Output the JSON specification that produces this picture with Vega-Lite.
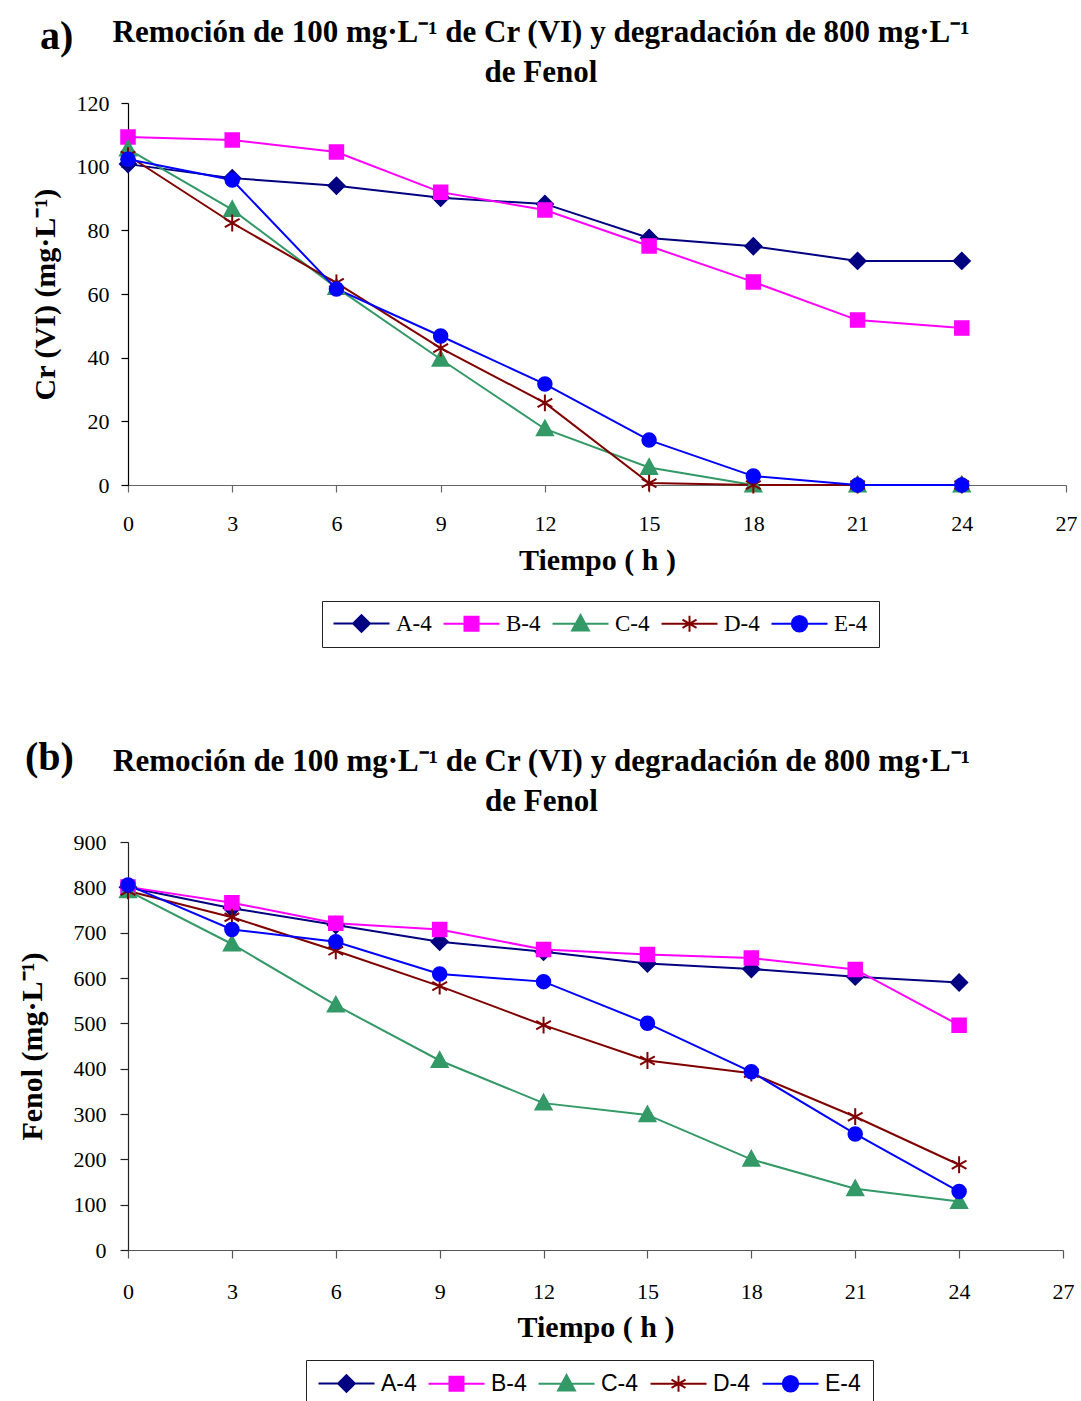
{
  "$schema": "https://vega.github.io/schema/vega-lite/v6.json",
  "background": "white",
  "padding": {"left": 17, "top": 16, "right": 0, "bottom": 0},
  "columns": 1,
  "spacing": 89,
  "resolve": {
    "scale": {"x": "independent", "y": "independent", "color": "independent"}
  },
  "datasets": {
    "cr": [
      {"t": 0, "serie": "A-4", "v": 100.8}, {"t": 3, "serie": "A-4", "v": 96.4}, {"t": 6, "serie": "A-4", "v": 94.0},
      {"t": 9, "serie": "A-4", "v": 90.2}, {"t": 12, "serie": "A-4", "v": 88.3}, {"t": 15, "serie": "A-4", "v": 77.6},
      {"t": 18, "serie": "A-4", "v": 75.0}, {"t": 21, "serie": "A-4", "v": 70.4}, {"t": 24, "serie": "A-4", "v": 70.4},
      {"t": 0, "serie": "B-4", "v": 109.3}, {"t": 3, "serie": "B-4", "v": 108.4}, {"t": 6, "serie": "B-4", "v": 104.6},
      {"t": 9, "serie": "B-4", "v": 92.0}, {"t": 12, "serie": "B-4", "v": 86.4}, {"t": 15, "serie": "B-4", "v": 75.1},
      {"t": 18, "serie": "B-4", "v": 63.8}, {"t": 21, "serie": "B-4", "v": 51.8}, {"t": 24, "serie": "B-4", "v": 49.3},
      {"t": 0, "serie": "C-4", "v": 105.5}, {"t": 3, "serie": "C-4", "v": 86.5}, {"t": 6, "serie": "C-4", "v": 62.0},
      {"t": 9, "serie": "C-4", "v": 39.5}, {"t": 12, "serie": "C-4", "v": 17.6}, {"t": 15, "serie": "C-4", "v": 5.5},
      {"t": 18, "serie": "C-4", "v": 0}, {"t": 21, "serie": "C-4", "v": 0}, {"t": 24, "serie": "C-4", "v": 0},
      {"t": 0, "serie": "D-4", "v": 103.5}, {"t": 3, "serie": "D-4", "v": 82.3}, {"t": 6, "serie": "D-4", "v": 63.5},
      {"t": 9, "serie": "D-4", "v": 43.0}, {"t": 12, "serie": "D-4", "v": 25.8}, {"t": 15, "serie": "D-4", "v": 0.6},
      {"t": 18, "serie": "D-4", "v": 0}, {"t": 21, "serie": "D-4", "v": 0}, {"t": 24, "serie": "D-4", "v": 0},
      {"t": 0, "serie": "E-4", "v": 102.3}, {"t": 3, "serie": "E-4", "v": 95.8}, {"t": 6, "serie": "E-4", "v": 61.6},
      {"t": 9, "serie": "E-4", "v": 46.8}, {"t": 12, "serie": "E-4", "v": 31.7}, {"t": 15, "serie": "E-4", "v": 14.1},
      {"t": 18, "serie": "E-4", "v": 2.8}, {"t": 21, "serie": "E-4", "v": 0}, {"t": 24, "serie": "E-4", "v": 0}
    ],
    "fenol": [
      {"t": 0, "serie": "A-4", "v": 800}, {"t": 3, "serie": "A-4", "v": 754}, {"t": 6, "serie": "A-4", "v": 717},
      {"t": 9, "serie": "A-4", "v": 680}, {"t": 12, "serie": "A-4", "v": 658}, {"t": 15, "serie": "A-4", "v": 632},
      {"t": 18, "serie": "A-4", "v": 620}, {"t": 21, "serie": "A-4", "v": 603}, {"t": 24, "serie": "A-4", "v": 590},
      {"t": 0, "serie": "B-4", "v": 801}, {"t": 3, "serie": "B-4", "v": 766}, {"t": 6, "serie": "B-4", "v": 721},
      {"t": 9, "serie": "B-4", "v": 707}, {"t": 12, "serie": "B-4", "v": 663}, {"t": 15, "serie": "B-4", "v": 652},
      {"t": 18, "serie": "B-4", "v": 644}, {"t": 21, "serie": "B-4", "v": 619}, {"t": 24, "serie": "B-4", "v": 496},
      {"t": 0, "serie": "C-4", "v": 792}, {"t": 3, "serie": "C-4", "v": 675}, {"t": 6, "serie": "C-4", "v": 540},
      {"t": 9, "serie": "C-4", "v": 418}, {"t": 12, "serie": "C-4", "v": 324}, {"t": 15, "serie": "C-4", "v": 298},
      {"t": 18, "serie": "C-4", "v": 200}, {"t": 21, "serie": "C-4", "v": 135}, {"t": 24, "serie": "C-4", "v": 107},
      {"t": 0, "serie": "D-4", "v": 792}, {"t": 3, "serie": "D-4", "v": 734}, {"t": 6, "serie": "D-4", "v": 660},
      {"t": 9, "serie": "D-4", "v": 582}, {"t": 12, "serie": "D-4", "v": 496}, {"t": 15, "serie": "D-4", "v": 418},
      {"t": 18, "serie": "D-4", "v": 390}, {"t": 21, "serie": "D-4", "v": 294}, {"t": 24, "serie": "D-4", "v": 188},
      {"t": 0, "serie": "E-4", "v": 805}, {"t": 3, "serie": "E-4", "v": 707}, {"t": 6, "serie": "E-4", "v": 680},
      {"t": 9, "serie": "E-4", "v": 609}, {"t": 12, "serie": "E-4", "v": 592}, {"t": 15, "serie": "E-4", "v": 500},
      {"t": 18, "serie": "E-4", "v": 393}, {"t": 21, "serie": "E-4", "v": 256}, {"t": 24, "serie": "E-4", "v": 129}
    ]
  },
  "concat": [
    {
      "width": 938,
      "height": 382,
      "title": {
        "text": ["Remoción de 100 mg·L⁻¹ de Cr (VI) y degradación de 800 mg·L⁻¹", "de Fenol"],
        "font": "Liberation Serif", "fontSize": 31, "fontWeight": "bold", "color": "#000",
        "anchor": "middle", "frame": "group", "dx": -56, "lineHeight": 40, "offset": -72
      },
      "data": {"name": "cr"},
      "layer": [
        {
          "mark": {"type": "line", "strokeWidth": 2},
          "encoding": {
            "x": {"field": "t", "type": "quantitative", "scale": {"domain": [0, 27], "nice": false},
              "axis": {"title": "Tiempo ( h )", "values": [0, 3, 6, 9, 12, 15, 18, 21, 24, 27], "tickSize": 7, "labelPadding": 21,
                "domainColor": "#666", "tickColor": "#666", "titlePadding": 11}},
            "y": {"field": "v", "type": "quantitative", "scale": {"domain": [0, 120], "nice": false},
              "axis": {"title": "Cr (VI) (mg·L⁻¹)", "values": [0, 20, 40, 60, 80, 100, 120], "tickSize": 7, "labelPadding": 12,
                "domainColor": "#000", "tickColor": "#000", "titlePadding": 16}},
            "color": {"field": "serie", "type": "nominal",
              "scale": {"domain": ["A-4", "B-4", "C-4", "D-4", "E-4"], "range": ["#000080", "#FF00FF", "#339966", "#800000", "#0000FF"]},
              "legend": {
                "orient": "none", "legendX": 194, "legendY": 498, "direction": "horizontal", "title": null,
                "labelFont": "Liberation Serif", "labelFontSize": 23, "labelColor": "#000",
                "symbolSize": 196, "symbolStrokeWidth": 2, "labelOffset": 40, "columnPadding": 7, "padding": 11,
                "strokeColor": "#222", "fillColor": "#fff",
                "encode": {"symbols": {"update": {
                  "shape": {"signal": "datum.value === 'A-4' ? 'M-1.57,0H6.43M2.43,-1.2L3.63,0L2.43,1.2L1.23,0Z' : datum.value === 'B-4' ? 'M-1.57,0H6.43M1.43,-1H3.43V1H1.43Z' : datum.value === 'C-4' ? 'M-1.57,0H6.43M2.43,-1.25L3.63,0.95L1.23,0.95Z' : datum.value === 'D-4' ? 'M-1.57,0H6.43M2.43,-1.15V1.15M1.43,-0.58L3.43,0.58M1.43,0.58L3.43,-0.58' : 'M-1.57,0H6.43M3.53,0A1.1,1.1,0,1,1,1.33,0A1.1,1.1,0,1,1,3.53,0Z'"},
                  "fill": {"signal": "datum.value === 'A-4' ? '#000080' : datum.value === 'B-4' ? '#FF00FF' : datum.value === 'C-4' ? '#339966' : datum.value === 'D-4' ? '#800000' : '#0000FF'"},
                  "stroke": {"signal": "datum.value === 'A-4' ? '#000080' : datum.value === 'B-4' ? '#FF00FF' : datum.value === 'C-4' ? '#339966' : datum.value === 'D-4' ? '#800000' : '#0000FF'"},
                  "strokeWidth": {"value": 2},
                  "size": {"value": 196},
                  "opacity": {"value": 1}
                }}}
              }}
          }
        },
        {
          "transform": [{"filter": "datum.serie === 'A-4'"}],
          "mark": {"type": "point", "shape": "M0,-1.2L1.2,0L0,1.2L-1.2,0Z", "filled": true, "fill": "#000080", "stroke": "#000080", "strokeWidth": 1.5, "size": 196, "opacity": 1},
          "encoding": {"x": {"field": "t", "type": "quantitative"}, "y": {"field": "v", "type": "quantitative"}}
        },
        {
          "transform": [{"filter": "datum.serie === 'B-4'"}],
          "mark": {"type": "point", "shape": "M-1,-1H1V1H-1Z", "filled": true, "fill": "#FF00FF", "stroke": "#FF00FF", "strokeWidth": 1.5, "size": 196, "opacity": 1},
          "encoding": {"x": {"field": "t", "type": "quantitative"}, "y": {"field": "v", "type": "quantitative"}}
        },
        {
          "transform": [{"filter": "datum.serie === 'C-4'"}],
          "mark": {"type": "point", "shape": "M0,-1.25L1.2,0.95L-1.2,0.95Z", "filled": true, "fill": "#339966", "stroke": "#339966", "strokeWidth": 1.5, "size": 196, "opacity": 1},
          "encoding": {"x": {"field": "t", "type": "quantitative"}, "y": {"field": "v", "type": "quantitative"}}
        },
        {
          "transform": [{"filter": "datum.serie === 'D-4'"}],
          "mark": {"type": "point", "shape": "M0,-1.2V1.2M-1.05,-0.6L1.05,0.6M-1.05,0.6L1.05,-0.6", "filled": false, "stroke": "#800000", "strokeWidth": 2, "size": 196, "opacity": 1},
          "encoding": {"x": {"field": "t", "type": "quantitative"}, "y": {"field": "v", "type": "quantitative"}}
        },
        {
          "transform": [{"filter": "datum.serie === 'E-4'"}],
          "mark": {"type": "point", "shape": "circle", "filled": true, "fill": "#0000FF", "stroke": "#0000FF", "strokeWidth": 1.5, "size": 196, "opacity": 1},
          "encoding": {"x": {"field": "t", "type": "quantitative"}, "y": {"field": "v", "type": "quantitative"}}
        },
        {
          "data": {"values": [{"etiqueta": "a)"}]},
          "mark": {"type": "text", "font": "Liberation Serif", "fontSize": 40, "fontWeight": "bold", "align": "left", "baseline": "alphabetic", "color": "#000"},
          "encoding": {
            "x": {"datum": -2.533, "type": "quantitative"},
            "y": {"datum": 137, "type": "quantitative"},
            "text": {"field": "etiqueta"}
          }
        }
      ]
    },
    {
      "width": 935,
      "height": 408,
      "title": {
        "text": ["Remoción de 100 mg·L⁻¹ de Cr (VI) y degradación de 800 mg·L⁻¹", "de Fenol"],
        "font": "Liberation Serif", "fontSize": 31, "fontWeight": "bold", "color": "#000",
        "anchor": "middle", "frame": "group", "dx": -54, "lineHeight": 40, "offset": -80
      },
      "data": {"name": "fenol"},
      "layer": [
        {
          "mark": {"type": "line", "strokeWidth": 2},
          "encoding": {
            "x": {"field": "t", "type": "quantitative", "scale": {"domain": [0, 27], "nice": false},
              "axis": {"title": "Tiempo ( h )", "values": [0, 3, 6, 9, 12, 15, 18, 21, 24, 27], "tickSize": 8, "labelPadding": 23,
                "domainColor": "#555", "tickColor": "#555", "titlePadding": 10}},
            "y": {"field": "v", "type": "quantitative", "scale": {"domain": [0, 900], "nice": false},
              "axis": {"title": "Fenol (mg·L⁻¹)", "values": [0, 100, 200, 300, 400, 500, 600, 700, 800, 900], "tickSize": 8, "labelPadding": 14,
                "domainColor": "#222", "tickColor": "#222", "titlePadding": 26}},
            "color": {"field": "serie", "type": "nominal",
              "scale": {"domain": ["A-4", "B-4", "C-4", "D-4", "E-4"], "range": ["#000080", "#FF00FF", "#339966", "#800000", "#0000FF"]},
              "legend": {
                "orient": "none", "legendX": 178, "legendY": 518, "direction": "horizontal", "title": null,
                "labelFont": "Liberation Sans", "labelFontSize": 23, "labelColor": "#000",
                "symbolSize": 196, "symbolStrokeWidth": 2, "labelOffset": 40, "columnPadding": 7, "padding": 12,
                "strokeColor": "#222", "fillColor": "#fff",
                "encode": {"symbols": {"update": {
                  "shape": {"signal": "datum.value === 'A-4' ? 'M-1.57,0H6.43M2.43,-1.2L3.63,0L2.43,1.2L1.23,0Z' : datum.value === 'B-4' ? 'M-1.57,0H6.43M1.43,-1H3.43V1H1.43Z' : datum.value === 'C-4' ? 'M-1.57,0H6.43M2.43,-1.25L3.63,0.95L1.23,0.95Z' : datum.value === 'D-4' ? 'M-1.57,0H6.43M2.43,-1.15V1.15M1.43,-0.58L3.43,0.58M1.43,0.58L3.43,-0.58' : 'M-1.57,0H6.43M3.53,0A1.1,1.1,0,1,1,1.33,0A1.1,1.1,0,1,1,3.53,0Z'"},
                  "fill": {"signal": "datum.value === 'A-4' ? '#000080' : datum.value === 'B-4' ? '#FF00FF' : datum.value === 'C-4' ? '#339966' : datum.value === 'D-4' ? '#800000' : '#0000FF'"},
                  "stroke": {"signal": "datum.value === 'A-4' ? '#000080' : datum.value === 'B-4' ? '#FF00FF' : datum.value === 'C-4' ? '#339966' : datum.value === 'D-4' ? '#800000' : '#0000FF'"},
                  "strokeWidth": {"value": 2},
                  "size": {"value": 196},
                  "opacity": {"value": 1}
                }}}
              }}
          }
        },
        {
          "transform": [{"filter": "datum.serie === 'A-4'"}],
          "mark": {"type": "point", "shape": "M0,-1.2L1.2,0L0,1.2L-1.2,0Z", "filled": true, "fill": "#000080", "stroke": "#000080", "strokeWidth": 1.5, "size": 196, "opacity": 1},
          "encoding": {"x": {"field": "t", "type": "quantitative"}, "y": {"field": "v", "type": "quantitative"}}
        },
        {
          "transform": [{"filter": "datum.serie === 'B-4'"}],
          "mark": {"type": "point", "shape": "M-1,-1H1V1H-1Z", "filled": true, "fill": "#FF00FF", "stroke": "#FF00FF", "strokeWidth": 1.5, "size": 196, "opacity": 1},
          "encoding": {"x": {"field": "t", "type": "quantitative"}, "y": {"field": "v", "type": "quantitative"}}
        },
        {
          "transform": [{"filter": "datum.serie === 'C-4'"}],
          "mark": {"type": "point", "shape": "M0,-1.25L1.2,0.95L-1.2,0.95Z", "filled": true, "fill": "#339966", "stroke": "#339966", "strokeWidth": 1.5, "size": 196, "opacity": 1},
          "encoding": {"x": {"field": "t", "type": "quantitative"}, "y": {"field": "v", "type": "quantitative"}}
        },
        {
          "transform": [{"filter": "datum.serie === 'D-4'"}],
          "mark": {"type": "point", "shape": "M0,-1.2V1.2M-1.05,-0.6L1.05,0.6M-1.05,0.6L1.05,-0.6", "filled": false, "stroke": "#800000", "strokeWidth": 2, "size": 196, "opacity": 1},
          "encoding": {"x": {"field": "t", "type": "quantitative"}, "y": {"field": "v", "type": "quantitative"}}
        },
        {
          "transform": [{"filter": "datum.serie === 'E-4'"}],
          "mark": {"type": "point", "shape": "circle", "filled": true, "fill": "#0000FF", "stroke": "#0000FF", "strokeWidth": 1.5, "size": 196, "opacity": 1},
          "encoding": {"x": {"field": "t", "type": "quantitative"}, "y": {"field": "v", "type": "quantitative"}}
        },
        {
          "data": {"values": [{"etiqueta": "(b)"}]},
          "mark": {"type": "text", "font": "Liberation Serif", "fontSize": 40, "fontWeight": "bold", "align": "left", "baseline": "alphabetic", "color": "#000"},
          "encoding": {
            "x": {"datum": -2.974, "type": "quantitative"},
            "y": {"datum": 1059, "type": "quantitative"},
            "text": {"field": "etiqueta"}
          }
        }
      ]
    }
  ],
  "config": {
    "view": {"stroke": null},
    "axis": {
      "grid": false,
      "labelFont": "Liberation Serif", "labelFontSize": 22, "labelColor": "#000",
      "titleFont": "Liberation Serif", "titleFontSize": 30, "titleFontWeight": "bold", "titleColor": "#000",
      "labelFlush": false, "labelOverlap": false, "domainWidth": 1.2, "tickWidth": 1.2
    }
  }
}
